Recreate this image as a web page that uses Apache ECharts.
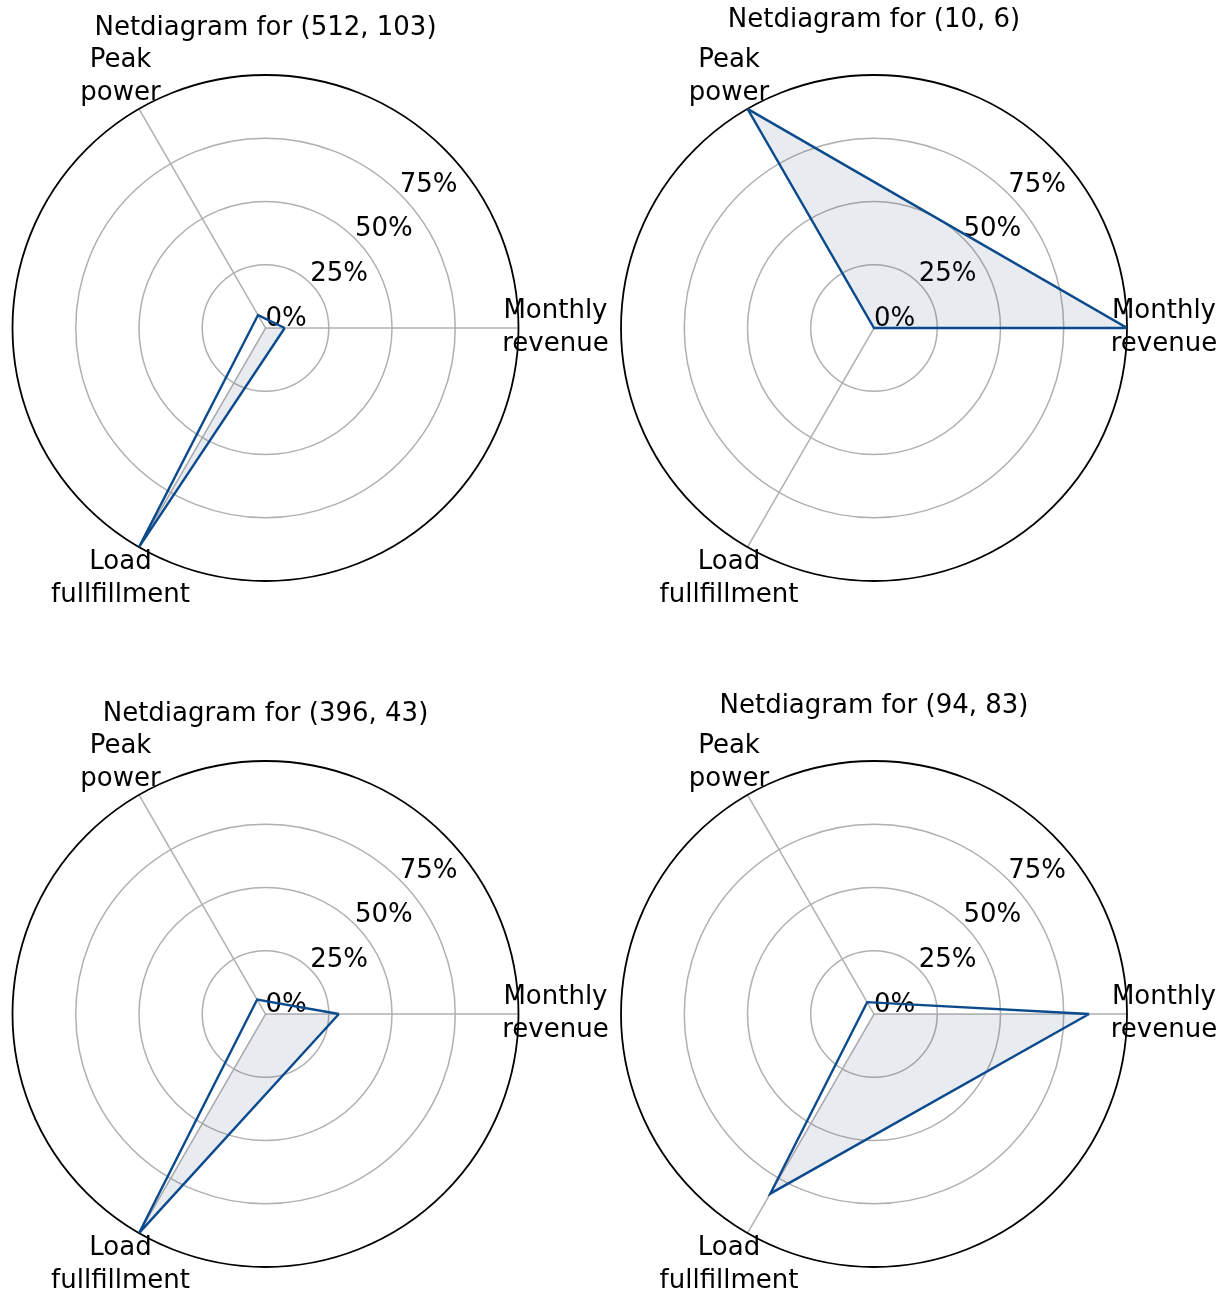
<!DOCTYPE html>
<html>
<head>
<meta charset="utf-8">
<script src="https://cdn.jsdelivr.net/npm/echarts@6/dist/echarts.min.js"></script>
<style>
html, body { margin: 0; padding: 0; background: #ffffff; }
#chart { width: 1232px; height: 1295px; }
</style>
</head>
<body>
<div id="chart"></div>
<script>
// ---------------- data ----------------
const titles = [
  'Netdiagram for (512, 103)',
  'Netdiagram for (10, 6)',
  'Netdiagram for (396, 43)',
  'Netdiagram for (94, 83)'
];
const categories = ['Monthly\nrevenue', 'Peak\npower', 'Load\nfullfillment'];
const categoryAngles = [0, 120, 240];          // degrees, counter-clockwise from east
const tickValues = [0, 25, 50, 75, 100];
const tickLabels = ['0%', '25%', '50%', '75%', ''];

// values in %, order: [Monthly revenue, Peak power, Load fullfillment]
const outline512 = [7.6, 5.9, 100];
const fill512    = [7.6, 0, 100];
const outline10  = [100, 100, 0];
const fill10     = [100, 100, 0];
const outline396 = [29, 6.6, 100];
const fill396    = [29, 0, 100];
const outline94  = [85, 5.4, 82];
const fill94     = [85, 0, 82];

// ---------------- layout / style ----------------
const panels = [
  { title: titles[0], outline: outline512, fill: fill512, cx: 265.5, cy: 328,  titleY: 28 },
  { title: titles[1], outline: outline10,  fill: fill10,  cx: 874,   cy: 328,  titleY: 20 },
  { title: titles[2], outline: outline396, fill: fill396, cx: 265.5, cy: 1014, titleY: 714 },
  { title: titles[3], outline: outline94,  fill: fill94,  cx: 874,   cy: 1014, titleY: 706 }
];
const R = 253;
const LABEL_R = 114.6;      // radial position of category names, in axis units
const FONT = 'DejaVu Sans';
const FS = 26;
const GRID = '#b0b0b0';
const BLUE = '#0b4a8c';
const FILLC = 'rgba(25,65,105,0.1)';

const polar = [], angleAxis = [], radiusAxis = [], series = [], title = [];

function pts(vals) {
  const out = vals.map((v, k) => [v, categoryAngles[k]]);
  out.push([vals[0], 360]);
  return out;
}

panels.forEach((p, i) => {
  const g = 2 * i, d = 2 * i + 1;
  polar.push({ center: [p.cx, p.cy], radius: R });
  polar.push({ center: [p.cx, p.cy], radius: R });

  // grid polar: circles + radial tick labels at 45 deg
  angleAxis.push({
    polarIndex: g, type: 'value', min: 0, max: 360, startAngle: 45, clockwise: false,
    axisLine: { show: true, lineStyle: { color: '#000', width: 1.8 } },
    axisTick: { show: false }, axisLabel: { show: false }, splitLine: { show: false }
  });
  radiusAxis.push({
    polarIndex: g, type: 'value', min: tickValues[0], max: tickValues[tickValues.length - 1], interval: 25,
    axisLine: { show: false }, axisTick: { show: false },
    axisLabel: {
      show: true, margin: 0, align: 'left', verticalAlign: 'bottom',
      formatter: (v) => tickLabels[tickValues.indexOf(Math.round(v))] || '',
      fontFamily: FONT, fontSize: FS, color: '#000', lineHeight: 18
    },
    splitLine: { show: true, lineStyle: { color: [GRID, GRID, GRID, GRID, 'rgba(0,0,0,0)'], width: 1.5 } }
  });

  // data polar: spokes + data
  angleAxis.push({
    polarIndex: d, type: 'value', min: 0, max: 360, interval: 120, startAngle: 0, clockwise: false,
    axisLine: { show: false }, axisTick: { show: false }, axisLabel: { show: false },
    splitLine: { show: true, lineStyle: { color: GRID, width: 1.5 } }
  });
  radiusAxis.push({
    polarIndex: d, type: 'value', min: 0, max: 100,
    axisLine: { show: false }, axisTick: { show: false }, axisLabel: { show: false }, splitLine: { show: false }
  });

  series.push({
    type: 'line', coordinateSystem: 'polar', polarIndex: d, data: pts(p.fill),
    symbol: 'none', clip: false, silent: true, z: 2,
    lineStyle: { width: 0, opacity: 0 },
    areaStyle: { color: FILLC, opacity: 1 }
  });
  series.push({
    type: 'line', coordinateSystem: 'polar', polarIndex: d, data: pts(p.outline),
    symbol: 'none', clip: false, silent: true, z: 3,
    lineStyle: { color: BLUE, width: 2.4, join: 'miter' }
  });
  series.push({
    type: 'scatter', coordinateSystem: 'polar', polarIndex: d, symbolSize: 0,
    clip: false, silent: true, z: 4,
    itemStyle: { opacity: 1 },
    data: categories.map((c, k) => ({ name: c, value: [LABEL_R, categoryAngles[k]] })),
    label: {
      show: true, position: 'inside', formatter: '{b}', align: 'center', verticalAlign: 'middle',
      fontFamily: FONT, fontSize: FS, color: '#000000', opacity: 1, textBorderWidth: 0, lineHeight: 33
    }
  });

  title.push({
    text: p.title, left: p.cx, top: p.titleY, textAlign: 'center', textVerticalAlign: 'middle', padding: 0,
    textStyle: { fontFamily: FONT, fontSize: FS, fontWeight: 'normal', color: '#000' }
  });
});

const chart = echarts.init(document.getElementById('chart'), null, { renderer: 'canvas' });
chart.setOption({
  animation: false,
  backgroundColor: '#ffffff',
  textStyle: { fontFamily: FONT },
  title, polar, angleAxis, radiusAxis, series
});
</script>
</body>
</html>
